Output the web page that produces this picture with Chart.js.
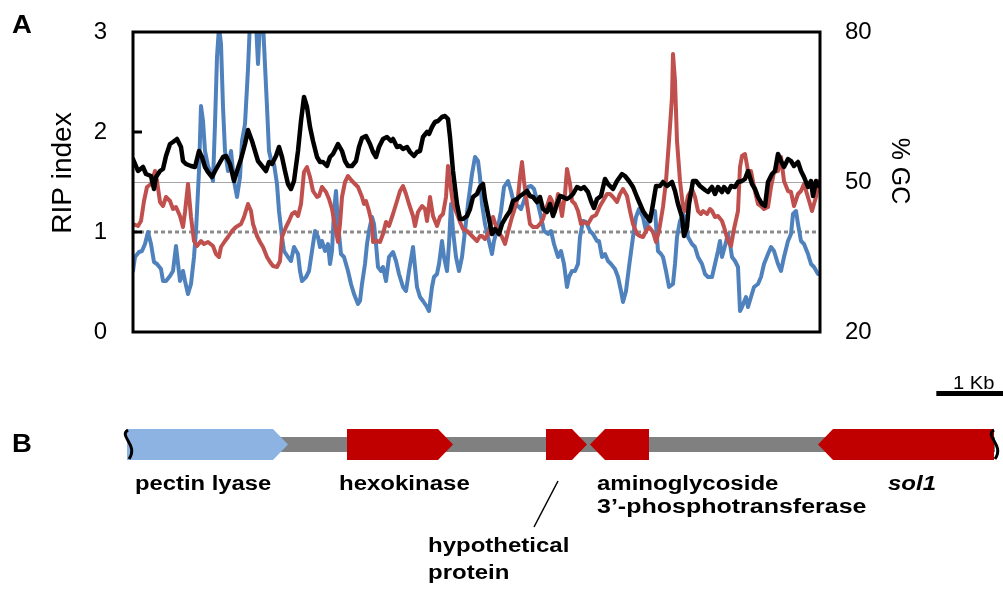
<!DOCTYPE html>
<html><head><meta charset="utf-8">
<script src="https://cdn.jsdelivr.net/npm/chart.js@4.4.1/dist/chart.umd.min.js"></script>
<style>html,body{margin:0;padding:0;background:#fff}canvas{display:block}</style>
</head><body>
<canvas id="c" width="1003" height="590"></canvas>
<script>
// ---- DATA (x = sliding-window position, 1 unit = 15 bp) ----
const ripTicks = [0, 1, 2, 3];
const gcTicks = [20, 50, 80];
const refSolid = 1.5;   // RIP index reference (solid grey)
const refDotted = 1.0;  // RIP index reference (dotted grey)

const blackPos = [
0,5,10,13,18,21,23,27,30,33,
37,40,44,48,50,53,58,62,66,69,
72,75,79,82,86,90,93,97,101,104,
108,112,115,119,122,125,129,133,136,139,
143,146,149,152,155,158,161,165,168,171,
174,177,180,184,187,190,194,197,200,205,
209,212,215,219,223,226,229,233,237,240,
243,246,250,254,258,260,264,267,270,274,
277,281,284,287,290,294,296,299,302,305,
309,312,315,317,320,324,327,330,334,337,
340,344,347,350,352,355,359,362,366,369,
373,377,380,384,387,390,394,397,400,404,
407,410,414,417,420,424,427,430,434,437,
440,444,448,451,455,458,461,464,468,472,
475,480,484,489,492,496,500,504,507,510,
514,517,520,523,527,530,534,539,542,545,
549,551,554,556,560,563,567,572,575,579,
582,585,589,591,595,598,602,605,609,612,
615,619,622,625,629,632,635,639,642,645,
648,651,655,658,661,665,668,671,675,678,
680,683,686];
const blackGC = [
54.6,52.2,53.0,51.6,51.2,48.6,51.0,52.2,52.6,55.2,
57.6,58.0,58.6,57.0,54.2,53.6,53.2,53.0,56.2,55.0,
53.0,52.0,51.0,52.2,53.6,55.0,55.2,53.6,50.2,52.2,
54.6,57.6,60.4,58.2,56.2,54.2,53.2,52.2,54.0,53.6,
55.2,57.0,55.0,52.2,49.6,48.6,50.2,56.2,62.2,67.0,
65.0,61.0,58.2,55.0,54.0,54.0,53.2,55.0,55.6,57.6,
56.2,54.2,53.2,53.2,54.2,57.0,58.8,59.2,57.6,56.0,
55.0,57.0,58.6,59.0,58.2,58.6,57.0,57.2,56.6,57.0,
56.0,55.2,56.0,56.2,59.0,60.0,59.6,61.0,62.0,62.2,
63.0,63.2,62.6,59.0,52.2,45.6,42.6,42.6,43.2,44.6,
47.0,47.6,49.0,49.6,46.6,43.6,39.6,40.6,39.6,41.6,
43.0,44.2,46.2,46.6,47.2,47.6,48.2,47.2,47.0,46.0,
47.0,44.6,44.0,45.6,43.2,45.6,47.2,47.0,46.6,47.0,
47.6,49.0,48.6,49.0,48.0,46.2,44.8,46.6,47.2,50.6,
49.6,48.6,50.2,51.6,51.2,50.2,49.0,47.0,45.6,44.2,
43.0,42.2,45.6,49.2,49.2,50.0,49.2,50.0,48.2,45.6,
43.0,39.2,41.0,45.6,50.2,50.2,49.2,48.4,48.0,49.0,
47.6,49.0,48.0,49.0,48.0,49.2,49.0,50.0,50.2,50.6,
52.2,49.6,48.6,47.0,45.6,45.2,50.0,51.6,52.2,55.6,
54.2,53.0,54.6,54.2,53.2,54.0,52.2,51.0,49.0,50.2,
47.2,50.2,49.2];

const redPos = [
0,5,8,11,14,18,22,24,27,30,
33,37,40,43,47,50,52,55,58,61,
64,68,71,75,80,83,86,88,92,95,
99,103,108,111,115,118,120,124,127,130,
134,137,140,144,147,149,153,156,159,162,
165,168,171,174,177,180,184,186,189,193,
196,199,202,205,207,209,212,215,219,222,
225,229,231,233,236,239,240,244,247,250,
253,256,260,264,267,270,273,276,280,282,
285,289,292,294,297,300,304,307,310,313,
315,318,320,324,327,330,334,337,340,344,
347,349,352,355,358,360,363,365,369,372,
375,379,381,385,387,389,391,394,397,400,
404,407,410,414,417,419,422,425,427,429,
432,434,437,439,442,445,448,451,455,459,
463,467,470,474,477,480,484,487,490,494,
497,500,504,507,510,513,516,520,523,526,
530,533,536,539,540,542,544,547,550,552,
555,559,562,565,568,570,574,577,579,582,
585,589,591,595,598,601,605,607,609,612,
615,618,621,625,628,631,635,638,641,645,
648,651,655,658,661,665,668,671,674,677,
679,683,686];
const redRip = [
1.08,1.06,1.11,1.31,1.45,1.48,1.61,1.51,1.30,1.26,
1.35,1.31,1.23,1.25,1.16,1.05,1.20,1.48,1.15,0.91,
0.86,0.91,0.88,0.90,0.86,0.78,0.75,0.85,0.91,0.95,
1.01,1.05,1.08,1.15,1.28,1.21,1.08,0.96,0.90,0.85,
0.75,0.70,0.66,0.65,0.71,0.95,1.05,1.11,1.18,1.20,
1.16,1.28,1.60,1.65,1.55,1.41,1.35,1.36,1.45,1.40,
1.33,1.23,1.06,0.90,1.08,1.35,1.50,1.56,1.51,1.48,
1.45,1.35,1.28,1.31,1.21,1.08,0.90,0.91,0.90,0.98,
1.10,1.06,1.18,1.31,1.41,1.46,1.38,1.28,1.16,1.06,
1.20,1.26,1.23,1.11,1.35,1.16,1.06,1.15,1.18,1.35,
1.66,1.43,1.28,1.18,1.10,1.03,1.01,0.98,0.95,0.91,
0.96,0.96,0.93,0.98,1.08,1.15,1.06,1.01,0.95,0.88,
1.00,1.15,1.21,1.35,1.55,1.70,1.51,1.28,1.08,1.05,
1.05,1.08,1.13,1.26,1.35,1.31,1.20,1.38,1.28,1.16,
1.38,1.63,1.48,1.31,1.28,1.21,1.08,1.10,1.08,1.15,
1.17,1.26,1.31,1.38,1.38,1.35,1.30,1.38,1.43,1.36,
1.21,1.08,0.98,0.96,0.95,1.01,1.05,1.00,0.90,1.01,
1.25,1.51,1.91,2.35,2.78,2.51,1.91,1.51,1.25,1.21,
1.36,1.43,1.35,1.21,1.18,1.21,1.18,1.23,1.21,1.15,
1.16,1.11,1.05,0.91,0.86,1.03,1.21,1.65,1.76,1.78,
1.61,1.61,1.45,1.28,1.26,1.23,1.25,1.45,1.60,1.61,
1.75,1.51,1.41,1.40,1.26,1.38,1.41,1.48,1.38,1.28,
1.21,1.35,1.51];

const bluePos = [
0,2,6,9,12,15,18,21,24,28,
30,33,37,40,43,47,50,52,55,58,
61,63,66,68,70,72,75,78,80,82,
84,86,88,90,92,95,98,101,104,107,
109,112,115,117,119,122,125,127,129,131,
134,136,139,141,144,146,149,151,155,158,
161,165,167,169,173,176,179,182,185,187,
189,192,195,197,199,201,203,205,208,211,
215,218,221,225,227,229,232,234,236,239,
241,243,245,248,250,253,256,260,263,266,
270,273,276,280,282,284,287,290,294,296,
299,301,304,306,309,311,314,316,318,320,
323,326,329,332,335,339,342,345,347,349,
352,355,359,361,365,368,371,375,378,381,
385,388,391,395,398,401,405,408,411,415,
418,421,425,428,431,434,436,439,442,445,
447,450,453,457,460,464,466,469,472,475,
478,482,485,488,490,493,496,500,503,506,
510,513,516,520,522,525,528,530,533,536,
540,542,544,547,550,552,555,559,562,565,
569,572,575,579,582,585,587,589,592,595,
597,599,602,605,607,609,613,615,618,621,
625,628,631,635,638,641,645,648,651,655,
658,660,663,665,668,671,675,678,681,685];
const blueRip = [
0.61,0.75,0.80,0.81,0.88,1.00,0.88,0.70,0.68,0.63,
0.51,0.51,0.56,0.61,0.86,0.51,0.61,0.51,0.38,0.48,
0.75,1.01,1.61,2.26,2.11,1.81,1.66,1.58,1.51,2.08,
2.75,3.05,2.88,2.25,1.81,1.61,1.81,1.51,1.35,1.55,
1.91,2.08,2.63,3.10,3.30,3.30,2.68,3.10,3.30,2.88,
2.25,1.81,1.68,1.68,1.48,1.21,0.95,0.81,0.75,0.71,
0.85,0.78,0.61,0.51,0.55,0.61,0.81,1.01,0.95,0.85,
0.91,0.81,0.88,0.68,0.81,1.21,1.41,1.08,0.78,0.75,
0.61,0.48,0.38,0.28,0.31,0.48,0.68,0.88,1.01,1.15,
1.08,0.88,0.65,0.61,0.65,0.51,0.75,0.80,0.71,0.58,
0.45,0.41,0.61,0.85,0.65,0.45,0.35,0.31,0.25,0.21,
0.45,0.55,0.58,0.68,0.91,0.75,0.61,0.88,1.28,1.01,
0.75,0.61,0.75,1.01,1.28,1.58,1.75,1.71,1.55,1.28,
1.08,0.95,0.78,0.91,1.05,1.21,1.45,1.51,1.41,1.28,
1.26,1.23,1.31,1.45,1.46,1.43,1.28,1.15,1.01,0.98,
1.01,0.88,0.75,0.81,0.68,0.45,0.55,0.61,0.61,0.68,
0.95,1.11,1.10,1.01,0.98,0.91,0.91,0.75,0.78,0.71,
0.68,0.63,0.55,0.41,0.30,0.41,0.65,0.95,1.15,1.23,
1.15,1.01,1.15,1.21,1.21,0.81,0.78,0.75,0.61,0.45,
0.48,0.68,0.95,1.11,1.18,1.15,0.95,0.88,0.85,0.75,
0.68,0.58,0.55,0.55,0.68,0.81,0.91,0.75,0.86,0.98,
0.88,0.75,0.71,0.65,0.21,0.25,0.35,0.25,0.35,0.45,
0.48,0.55,0.68,0.78,0.85,0.81,0.68,0.61,0.75,0.91,
0.98,1.18,1.21,1.08,0.91,0.88,0.78,0.68,0.65,0.58];

// Gene map (same position units as the windows)
const geneNames  = ['pectin lyase', 'hexokinase', 'hypothetical protein', 'aminoglycoside 3\u2019-phosphotransferase', 'sol1'];
const geneStart  = [-6, 214, 413, 457, 685];
const geneEnd    = [155, 320, 454, 516, 861];
const geneStrand = [1, 1, 1, -1, -1];
const geneKind   = ['light', 'dark', 'dark', 'dark', 'dark'];
const contigStart = -6, contigEnd = 862;
const scaleBarEnd = 870, scaleBarBp = 1000, bpPerUnit = 15;

// ---- RENDERING ----
const FONT = '"Liberation Sans", Arial, Helvetica, sans-serif';
const xyPairs = (xs, ys) => xs.map((x, i) => ({x: x, y: ys[i]}));

function stretchedText(ctx, txt, x, y, font, sx) {
  ctx.save();
  ctx.font = font;
  ctx.translate(x, y);
  ctx.scale(sx, 1);
  ctx.fillText(txt, 0, 0);
  ctx.restore();
}

// wavy "break" mark at a contig end
function breakMark(ctx, x, top, bot) {
  ctx.beginPath();
  ctx.moveTo(x, top + 1);
  ctx.bezierCurveTo(x - 10, top + 7, x + 11, bot - 15, x + 1, bot - 1);
  ctx.stroke();
}

const figurePlugin = {
  id: 'figure',
  beforeDatasetsDraw(chart) {
    const {ctx, chartArea: a, scales} = chart;
    const y = scales.y;
    ctx.save();
    const ys = Math.round(y.getPixelForValue(refSolid)) + 0.5;
    ctx.strokeStyle = '#a6a6a6'; ctx.lineWidth = 1;
    ctx.beginPath(); ctx.moveTo(a.left, ys); ctx.lineTo(a.right, ys); ctx.stroke();
    const yd = y.getPixelForValue(refDotted);
    ctx.strokeStyle = '#8c8c8c'; ctx.lineWidth = 3; ctx.setLineDash([4, 3]);
    ctx.beginPath(); ctx.moveTo(a.left, yd); ctx.lineTo(a.right, yd); ctx.stroke();
    ctx.restore();
  },
  afterDatasetsDraw(chart) {
    const {ctx, chartArea: a, scales} = chart;
    const x = scales.x, y = scales.y;
    ctx.save();
    // plot frame
    ctx.strokeStyle = '#000'; ctx.lineWidth = 3;
    ctx.strokeRect(a.left, a.top, a.right - a.left, a.bottom - a.top);
    // inward tick marks on left axis
    ctx.lineWidth = 3;
    ripTicks.slice(1, -1).forEach(v => {
      const py = y.getPixelForValue(v);
      ctx.beginPath(); ctx.moveTo(a.left, py); ctx.lineTo(a.left + 9, py); ctx.stroke();
    });
    ctx.fillStyle = '#000';
    // axis titles
    ctx.save();
    ctx.font = '28px ' + FONT; ctx.textAlign = 'center'; ctx.textBaseline = 'alphabetic';
    ctx.translate(71, 173); ctx.rotate(-Math.PI / 2); ctx.fillText('RIP index', 0, 0);
    ctx.restore();
    ctx.save();
    ctx.font = '25px ' + FONT; ctx.textAlign = 'center'; ctx.textBaseline = 'alphabetic';
    ctx.translate(892, 171); ctx.rotate(Math.PI / 2); ctx.fillText('% GC', 0, 0);
    ctx.restore();
    // panel letters
    ctx.textAlign = 'left'; ctx.textBaseline = 'alphabetic';
    stretchedText(ctx, 'A', 12, 33, 'bold 25px ' + FONT, 1.1);
    stretchedText(ctx, 'B', 12, 452, 'bold 25px ' + FONT, 1.1);
    // scale bar
    const sb1 = x.getPixelForValue(scaleBarEnd);
    const sb0 = x.getPixelForValue(scaleBarEnd - scaleBarBp / bpPerUnit);
    ctx.fillRect(sb0, 391, sb1 - sb0, 5);
    stretchedText(ctx, '1 Kb', 953, 389, '18px ' + FONT, 1.12);
    // gene map
    const top = 429, bot = 460, mid = (top + bot) / 2, head = 15;
    ctx.fillStyle = '#808080';
    const c0 = x.getPixelForValue(contigStart), c1 = x.getPixelForValue(contigEnd);
    ctx.fillRect(c0, mid - 7.5, c1 - c0, 15);
    geneStart.forEach((s, i) => {
      const x0 = x.getPixelForValue(s), x1 = x.getPixelForValue(geneEnd[i]);
      ctx.fillStyle = geneKind[i] === 'light' ? '#8db3e2' : '#c00000';
      ctx.beginPath();
      if (geneStrand[i] > 0) {
        ctx.moveTo(x0, top); ctx.lineTo(x1 - head, top); ctx.lineTo(x1, mid);
        ctx.lineTo(x1 - head, bot); ctx.lineTo(x0, bot);
      } else {
        ctx.moveTo(x0, mid); ctx.lineTo(x0 + head, top); ctx.lineTo(x1, top);
        ctx.lineTo(x1, bot); ctx.lineTo(x0 + head, bot);
      }
      ctx.closePath(); ctx.fill();
    });
    ctx.strokeStyle = '#000'; ctx.lineWidth = 3;
    breakMark(ctx, c0 + 1, top, bot);
    breakMark(ctx, c1 - 1, top, bot);
    // gene labels
    ctx.fillStyle = '#000';
    const lf = 'bold 20px ' + FONT, sx = 1.2;
    stretchedText(ctx, 'pectin lyase', 135, 490, lf, 1.19);
    stretchedText(ctx, 'hexokinase', 339, 490, lf, sx);
    stretchedText(ctx, 'hypothetical', 428, 552, lf, sx);
    stretchedText(ctx, 'protein', 428, 579, lf, sx);
    stretchedText(ctx, 'aminoglycoside', 597, 490, lf, sx);
    stretchedText(ctx, '3\u2019-phosphotransferase', 597, 513, lf, 1.25);
    stretchedText(ctx, 'sol1', 888, 490, 'italic bold 20px ' + FONT, sx);
    ctx.lineWidth = 1.5;
    ctx.beginPath(); ctx.moveTo(558, 481); ctx.lineTo(534, 527); ctx.stroke();
    ctx.restore();
  }
};

function fixAxis(width) {
  return function (s) { s.width = width; s.paddingTop = 0; s.paddingBottom = 0; };
}

new Chart(document.getElementById('c'), {
  type: 'line',
  data: {
    datasets: [
      {label: '% GC', data: xyPairs(blackPos, blackGC), yAxisID: 'y2', borderColor: '#000000', borderWidth: 4.5},
      {label: 'RIP index (Substrate)', data: xyPairs(redPos, redRip), yAxisID: 'y', borderColor: '#c0504d', borderWidth: 4},
      {label: 'RIP index (Product)', data: xyPairs(bluePos, blueRip), yAxisID: 'y', borderColor: '#4f81bd', borderWidth: 4}
    ]
  },
  options: {
    responsive: false,
    animation: false,
    events: [],
    devicePixelRatio: 1,
    layout: {padding: {top: 32, bottom: 258, left: 0, right: 0}},
    elements: {point: {radius: 0}, line: {tension: 0, borderJoinStyle: 'round', borderCapStyle: 'round'}},
    plugins: {legend: {display: false}, tooltip: {enabled: false}, title: {display: false}},
    scales: {
      x: {type: 'linear', min: 0, max: 687, display: false},
      y: {
        position: 'left', min: 0, max: 3,
        afterFit: fixAxis(133),
        afterBuildTicks(s) { s.ticks = ripTicks.map(v => ({value: v})); },
        ticks: {padding: 26, color: '#000', font: {family: FONT, size: 24}},
        grid: {display: false, drawTicks: false},
        border: {display: false}
      },
      y2: {
        position: 'right', min: 20, max: 80,
        afterFit: fixAxis(183),
        afterBuildTicks(s) { s.ticks = gcTicks.map(v => ({value: v})); },
        ticks: {padding: 25, color: '#000', font: {family: FONT, size: 24}},
        grid: {display: false, drawTicks: false},
        border: {display: false}
      }
    }
  },
  plugins: [figurePlugin]
});
</script>
</body></html>
